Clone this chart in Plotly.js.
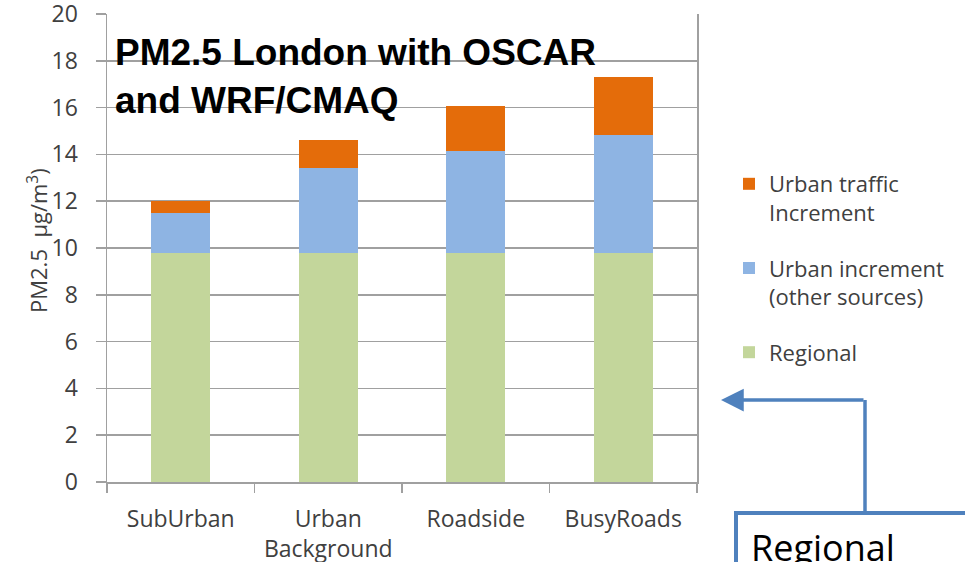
<!DOCTYPE html>
<html>
<head>
<meta charset="utf-8">
<script src="https://cdn.plot.ly/plotly-3.0.1.min.js"></script>
<style>html,body{margin:0;padding:0;background:#fff;}#chart{width:965px;height:562px;}</style>
</head>
<body>
<div id="chart"></div>
<script>
const categories = ["SubUrban", "Urban<br>Background", "Roadside", "BusyRoads"];
const regional = [9.8, 9.8, 9.8, 9.8];
const urbanOther = [1.7, 3.6, 4.35, 5.05];
const urbanTraffic = [0.5, 1.2, 1.9, 2.45];
const seriesNames = ["Regional", "Urban increment<br>(other sources)", "Urban traffic<br>Increment"];
const seriesColors = ["#C3D69B", "#8EB4E3", "#E46C0A"];
const yTicks = [0, 2, 4, 6, 8, 10, 12, 14, 16, 18, 20];
const yTitle = "PM2.5\u00a0\u00a0μg/m<sup>3</sup>)";

const FONT = "'Open Sans', Lato, sans-serif";
const TXT = "#404040";
const GRID = "#a0a0a0";

const data = [regional, urbanOther, urbanTraffic].map((vals, i) => ({
  type: "bar",
  x: categories,
  y: vals,
  name: seriesNames[i],
  legendgroup: "g" + i,
  legendrank: 3 - i,
  marker: {color: seriesColors[i], line: {width: 0}},
  hoverinfo: "skip"
}));

// pixel -> paper helpers for decoration (plot area 107..697 x 14..482)
const L = 107, R = 697, T = 14, B = 482;
const px = v => (v - L) / (R - L);
const py = v => (B - v) / (B - T);

const layout = {
  width: 965, height: 562,
  margin: {l: L, r: 965 - R, t: T, b: 562 - B},
  paper_bgcolor: "#fff", plot_bgcolor: "#fff",
  barmode: "stack",
  bargap: 0.6,
  showlegend: true,
  legend: {
    x: px(729), y: py(163), xanchor: "left", yanchor: "top",
    traceorder: "grouped",
    valign: "top",
    font: {family: FONT, size: 22, color: TXT},
    tracegroupgap: 24,
    itemwidth: 30,
    bgcolor: "rgba(0,0,0,0)"
  },
  xaxis: {
    type: "category",
    tickson: "boundaries",
    ticks: "outside", ticklen: 9, tickcolor: GRID, tickwidth: 1.5,
    showline: true, linecolor: GRID, linewidth: 1.5,
    showgrid: false,
    tickfont: {family: FONT, size: 23, color: TXT},
    ticklabelstandoff: 16,
    fixedrange: true
  },
  yaxis: {
    range: [0, 20],
    tickvals: yTicks,
    ticks: "outside", ticklen: 10, tickcolor: GRID, tickwidth: 1.5,
    showline: true, linecolor: GRID, linewidth: 1.5, mirror: true,
    showgrid: true, gridcolor: GRID, gridwidth: 1.5,
    zeroline: false,
    tickfont: {family: FONT, size: 23, color: TXT},
    ticklabelstandoff: 13,
    ticklabeloverflow: "allow",
    automargin: false,
    fixedrange: true
  },
  annotations: [
    {
      xref: "paper", yref: "paper", x: px(37), y: py(241), xanchor: "center", yanchor: "middle",
      text: yTitle, textangle: -90, showarrow: false,
      font: {family: FONT, size: 22, color: TXT}
    },
    {
      xref: "paper", yref: "paper", x: px(113), y: py(30), xanchor: "left", yanchor: "top",
      text: "<b>PM2.5 London with OSCAR<br>and WRF/CMAQ</b>", align: "left", showarrow: false,
      font: {family: "'Liberation Sans', Arial, sans-serif", size: 37, color: "#000"}
    },
    {
      xref: "paper", yref: "paper", x: px(721), y: py(400),
      ax: 144, ay: 0, axref: "pixel", ayref: "pixel",
      text: "", showarrow: true, arrowhead: 2, arrowsize: 1.3, arrowwidth: 3.5, arrowcolor: "#4F81BD"
    },
    {
      xref: "paper", yref: "paper", x: px(749), y: py(547), xanchor: "left", yanchor: "middle",
      text: "Regional", showarrow: false,
      font: {family: FONT, size: 36, color: "#000"}
    }
  ],
  shapes: [
    {type: "line", xref: "paper", yref: "paper", x0: px(865), x1: px(865), y0: py(400), y1: py(513),
     line: {color: "#4F81BD", width: 3.5}},
    {type: "rect", xref: "paper", yref: "paper", x0: px(736), x1: px(1010), y0: py(513), y1: py(640),
     line: {color: "#4F81BD", width: 4}, fillcolor: "rgba(0,0,0,0)"}
  ]
};

Plotly.newPlot("chart", data, layout, {displayModeBar: false, staticPlot: true});
</script>
</body>
</html>
